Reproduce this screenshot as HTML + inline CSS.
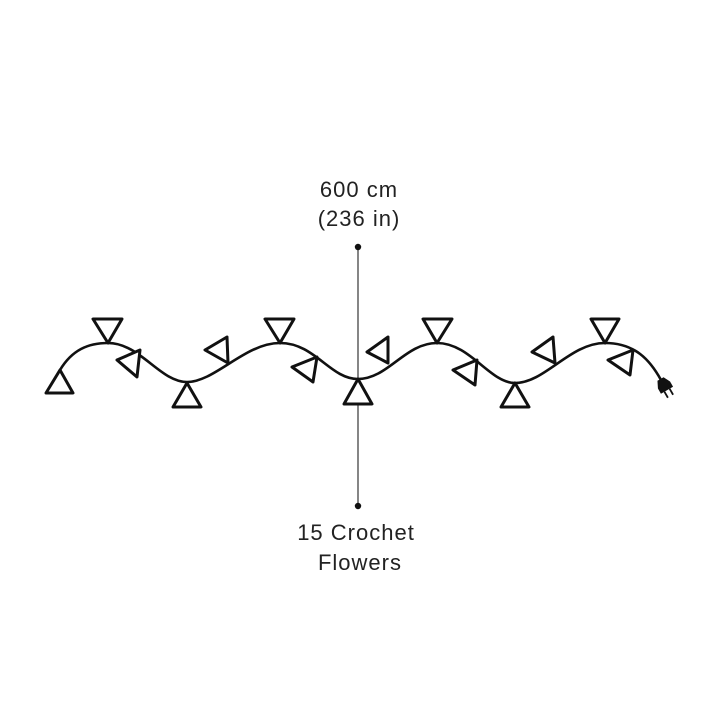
<!DOCTYPE html>
<html><head><style>
html,body{margin:0;padding:0;background:#fff;}
svg{display:block;}
text{font-family:"Liberation Sans","DejaVu Sans",sans-serif;font-size:22px;letter-spacing:1px;fill:#222;}
</style></head><body>
<svg width="720" height="721" viewBox="0 0 720 721" xmlns="http://www.w3.org/2000/svg">
<rect width="720" height="721" fill="#fff"/>
<text x="359" y="197" text-anchor="middle">600 cm</text>
<text x="359" y="226" text-anchor="middle">(236 in)</text>
<text x="356" y="540" text-anchor="middle">15 Crochet</text>
<text x="360" y="570" text-anchor="middle">Flowers</text>
<line x1="358" y1="247" x2="358" y2="506" stroke="#444" stroke-width="1.3"/>
<circle cx="358" cy="247" r="3.2" fill="#111"/>
<circle cx="358" cy="506" r="3.2" fill="#111"/>
<path d="M60,370 C72,350 88,343 108,343 C140,343 160,382 187,382 C215,382 245,343 280,343 C315,343 330,379 358,379 C388,379 405,343 437,343 C470,343 490,383 515,383 C545,383 570,343 605,343 C635,343 650,360 661,380" fill="none" stroke="#111" stroke-width="2.6"/>
<g fill="#fff" stroke="#111" stroke-width="3" stroke-linejoin="round">
<polygon points="60,370 73,393 46,393"/>
<polygon points="93,319 122,319 108,343"/>
<polygon points="140,350 137,377 117,360"/>
<polygon points="187,383 201,407 173,407"/>
<polygon points="228,363 227,337 205,350"/>
<polygon points="265,319 294,319 280,343"/>
<polygon points="317,357 313,382 292,367"/>
<polygon points="358,379 372,404 344,404"/>
<polygon points="388,363 388,337 367,352"/>
<polygon points="423,319 452,319 437,343"/>
<polygon points="477,360 475,385 453,370"/>
<polygon points="515,383 529,407 501,407"/>
<polygon points="555,363 553,337 532,352"/>
<polygon points="591,319 619,319 605,343"/>
<polygon points="633,350 630,375 608,360"/>
</g>
<g transform="translate(664,385) rotate(-30)">
<path d="M-3.5,-7 L3.5,-7 L7,0 L7,6 L-7,6 L-7,0 Z" fill="#111"/>
<line x1="-3" y1="6" x2="-3" y2="13" stroke="#111" stroke-width="1.8"/>
<line x1="3" y1="6" x2="3" y2="13" stroke="#111" stroke-width="1.8"/>
</g>
</svg>
</body></html>
